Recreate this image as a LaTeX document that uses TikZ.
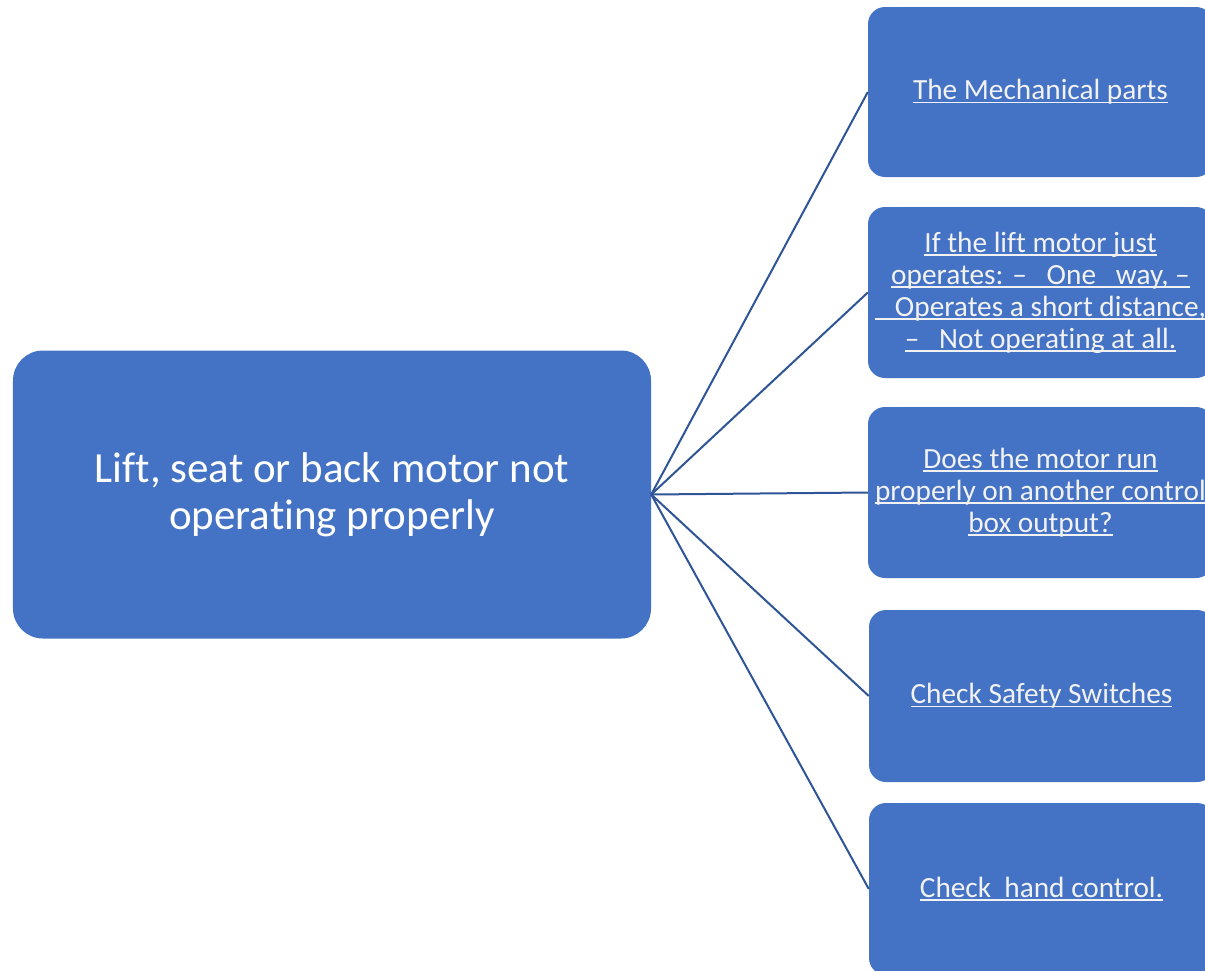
\documentclass[tikz,border=0pt]{standalone}
\usepackage{fontspec}
\setmainfont{Carlito}[RawFeature={-liga;-clig;-dlig}]
\definecolor{boxblue}{HTML}{4472C4}
\definecolor{linkblue}{HTML}{2F5597}
\definecolor{txtlight}{HTML}{F2F2F2}
\newcommand\ulln[1]{\setbox0=\hbox{#1}\rlap{\rule[-3.5bp]{\wd0}{1.5bp}}\box0}
\tikzset{
  rootbox/.style={rectangle, rounded corners=30bp, fill=boxblue, text=white, align=center,
    minimum width=638bp, minimum height=288bp, inner sep=0pt,
    font=\fontsize{43bp}{47bp}\selectfont},
  leafbox/.style={rectangle, rounded corners=17bp, fill=boxblue, text=txtlight, align=center,
    minimum width=345bp, inner sep=0pt,
    font=\fontsize{29.3bp}{32bp}\selectfont},
  conn/.style={draw=linkblue, line width=2bp}
}
\begin{document}
\begin{tikzpicture}[x=1bp,y=-1bp]
\useasboundingbox (0,0) rectangle (1205,971);
\clip (0,0) rectangle (1205,971);
\fill[white] (0,0) rectangle (1205,971);
\node[rootbox] (root) at (332,494.5) {Lift, seat or back motor not\\operating properly};
\node[leafbox, minimum height=170bp] (b1) at (1040.5,92) {\ulln{The Mechanical parts}};
\node[leafbox, minimum height=171bp] (b2) at (1040.5,292.5) {\ulln{If the lift motor just}\\\ulln{operates: –\ \ \ One\ \ \ way, –}\\\ulln{\ \ \ Operates a short distance,}\\\ulln{–\ \ \ Not operating at all.}};
\node[leafbox, minimum height=171bp] (b3) at (1040.5,492.5) {\ulln{Does the motor run}\\\ulln{properly on another control}\\\ulln{box output?}};
\node[leafbox, minimum height=172bp] (b4) at (1041.5,696) {\ulln{Check Safety Switches}};
\node[leafbox, minimum height=172bp] (b5) at (1041.5,889) {\ulln{Check\ \ hand control.}};
\foreach \b in {b1,b2,b3,b4,b5} \draw[conn] (root.east) -- (\b.west);
\end{tikzpicture}
\end{document}
